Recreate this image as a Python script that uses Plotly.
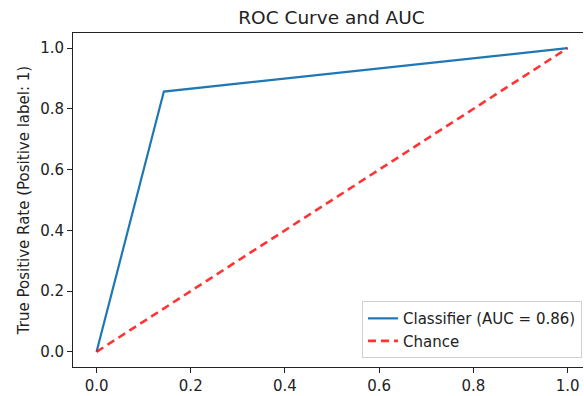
import plotly.graph_objects as go

# Data
fpr = [0.0, 0.1429, 1.0]
tpr = [0.0, 0.8571, 1.0]
chance_x = [0.0, 1.0]
chance_y = [0.0, 1.0]
auc_value = 0.86
x_ticks = [0.0, 0.2, 0.4, 0.6, 0.8, 1.0]
y_ticks = [0.0, 0.2, 0.4, 0.6, 0.8, 1.0]
tick_text = ["0.0", "0.2", "0.4", "0.6", "0.8", "1.0"]

FONT = "DejaVu Sans"

fig = go.Figure()
fig.add_trace(go.Scatter(
    x=fpr, y=tpr, mode="lines",
    name=f"Classifier (AUC = {auc_value:.2f})",
    line=dict(color="#1f77b4", width=2.2),
))
fig.add_trace(go.Scatter(
    x=chance_x, y=chance_y, mode="lines",
    name="Chance",
    line=dict(color="rgba(255,0,0,0.8)", width=2.6, dash="8px,5px"),
))

W, H = 584, 396
L, R, T, B = 73, 1, 33, 25
plot_w = W - L - R
fig.update_layout(
    width=W, height=H,
    margin=dict(l=L, r=R, t=T, b=B, pad=0),
    paper_bgcolor="white", plot_bgcolor="white",
    font=dict(family=FONT, size=15, color="#222"),
    title=dict(text="ROC Curve and AUC", x=331.5 / W, xanchor="center",
               xref="container", y=1 - 18 / H, yanchor="middle", yref="container",
               font=dict(family=FONT, size=18.5, color="#222")),
    showlegend=True,
    legend=dict(x=1 - 1 / plot_w, xanchor="right", y=9 / (H - T - B), yanchor="bottom",
                bgcolor="white", bordercolor="#d0d0d0", borderwidth=1,
                font=dict(family=FONT, size=15, color="#222"),
                tracegroupgap=0),
    hovermode=False,
)
fig.update_xaxes(
    range=[-0.05, -0.05 + plot_w / 471.0],
    tickvals=x_ticks, ticktext=tick_text,
    showgrid=False, zeroline=False,
    showline=True, linecolor="#222", linewidth=1, mirror=True,
    ticks="outside", ticklen=5, tickwidth=1, tickcolor="#222",
)
fig.update_yaxes(
    range=[-0.05, 1.05],
    tickvals=y_ticks, ticktext=tick_text,
    showgrid=False, zeroline=False,
    showline=True, linecolor="#222", linewidth=1, mirror=False,
    ticks="outside", ticklen=5, tickwidth=1, tickcolor="#222",
    title=dict(text="True Positive Rate (Positive label: 1)", standoff=6,
               font=dict(family=FONT, size=15, color="#222")),
)

fig.write_html("out.html")
